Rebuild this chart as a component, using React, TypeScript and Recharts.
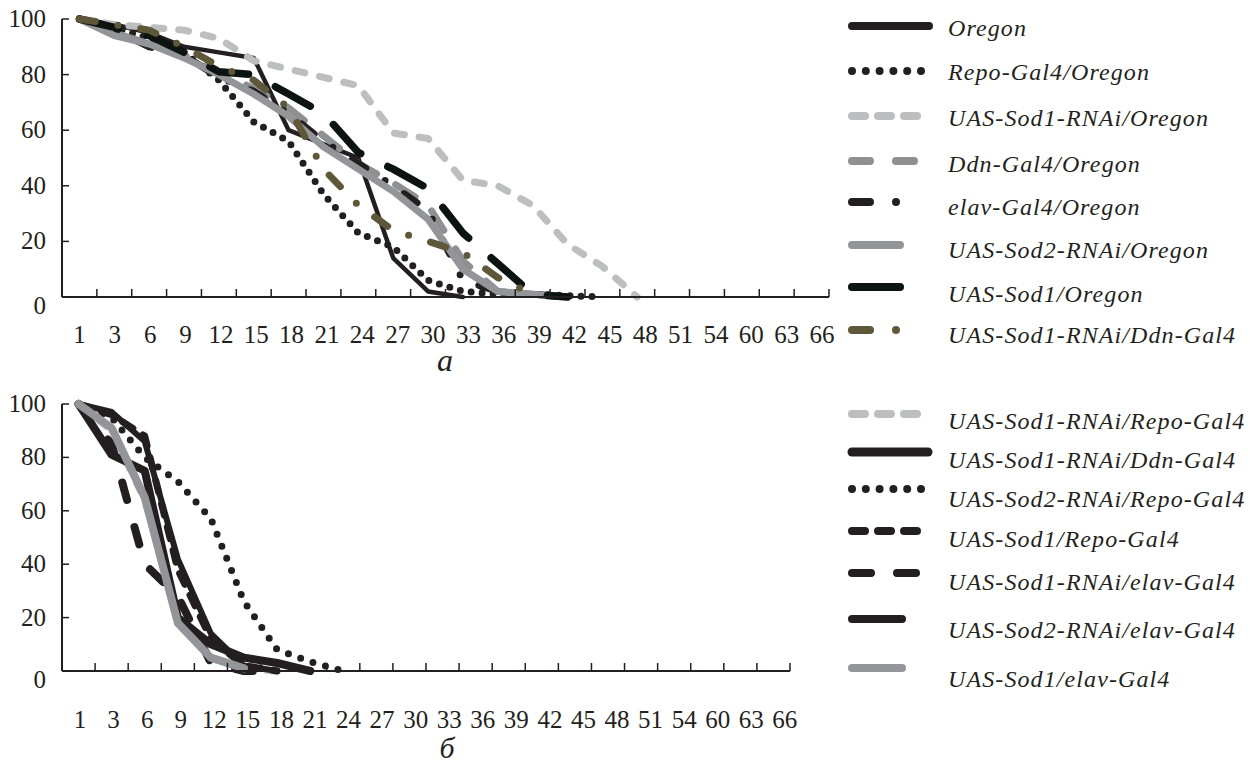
import { LineChart, Line, XAxis, YAxis } from 'recharts';

const days = ['1', '3', '6', '9', '12', '15', '18', '21', '24', '27', '30', '33', '36', '39', '42', '45', '48', '51', '54', '60', '63', '66'];
const percentTicks = [0, 20, 40, 60, 80, 100];

// panel а — survival, %
const oregon = [100, 98, 95, 90, 88, 86, 60, 55, 50, 14, 2, 0];
const repoOregon = [100, 97, 93, 88, 78, 63, 56, 37, 23, 18, 6, 2, 1, 1, 0.5, 0];
const sod1RnaiOregon = [100, 98, 97, 96, 93, 85, 82, 79, 76, 59, 57, 42, 40, 33, 19, 11, 0];
const ddnOregon = [100, 95, 91, 87, 81, 75, 68, 58, 48, 41, 33, 13, 2, 1, 0];
const elavOregon = [100, 96, 90, 87, 79, 74, 66, 56, 48, 40, 31, 6, 2, 1, 0];
const sod2RnaiOregon = [100, 94, 91, 86, 80, 73, 65, 54, 46, 38, 28, 10, 2, 1, 0];
const sod1Oregon = [100, 97, 94, 88, 81, 80, 73, 66, 52, 46, 39, 23, 12, 1, 0];
const sod1RnaiDdnA = [100, 98, 96, 90, 83, 78, 68, 46, 33, 24, 20, 16, 7, 1];

// panel б
const sod1RnaiRepo = [100, 90, 64, 22, 5, 1, 0];
const sod1RnaiDdnB = [100, 81, 75, 20, 10, 5, 3, 0];
const sod2RnaiRepo = [100, 95, 80, 71, 57, 26, 8, 3.5, 0];
const sod1Repo = [100, 96, 88, 38, 12, 2, 0];
const sod1RnaiElav = [100, 85, 40, 28, 3, 0, 0];
const sod2RnaiElav = [100, 97, 86, 42, 14, 2, 0];
const sod1Elav = [100, 91, 65, 18, 5, 1];

const INK = '#231f20';
const SERIF = '"Liberation Serif", "Times New Roman", serif';

type Series = {
  name: string;
  values: number[];
  color: string;
  width: number;
  dash?: string;
  legendLen: number;
  legendDash?: string;
  legendWidth?: number;
};

const seriesA: Series[] = [
  { name: 'Oregon', values: oregon, color: INK, width: 4.5, legendLen: 77 },
  { name: 'Repo-Gal4/Oregon', values: repoOregon, color: INK, width: 7, dash: '0 11', legendLen: 70, legendDash: '0 13.8' },
  { name: 'UAS-Sod1-RNAi/Oregon', values: sod1RnaiOregon, color: '#bcbec0', width: 7, dash: '10 15', legendLen: 68, legendDash: '13 13' },
  { name: 'Ddn-Gal4/Oregon', values: ddnOregon, color: '#8e9092', width: 7, dash: '23 22', legendLen: 70, legendDash: '18 26' },
  { name: 'elav-Gal4/Oregon', values: elavOregon, color: INK, width: 7, dash: '16 23 0 23', legendLen: 60, legendDash: '18 26 0 100' },
  { name: 'UAS-Sod2-RNAi/Oregon', values: sod2RnaiOregon, color: '#939598', width: 7, legendLen: 48 },
  { name: 'UAS-Sod1/Oregon', values: sod1Oregon, color: '#0b1411', width: 7.5, dash: '40 30', legendLen: 48 },
  { name: 'UAS-Sod1-RNAi/Ddn-Gal4', values: sod1RnaiDdnA, color: '#5f573a', width: 7, dash: '16 23 0 23', legendLen: 60, legendDash: '18 26 0 100' },
];

const seriesB: Series[] = [
  { name: 'UAS-Sod1-RNAi/Repo-Gal4', values: sod1RnaiRepo, color: '#bcbec0', width: 7, dash: '10 15', legendLen: 68, legendDash: '13 13' },
  { name: 'UAS-Sod1-RNAi/Ddn-Gal4', values: sod1RnaiDdnB, color: INK, width: 8, legendLen: 76, legendWidth: 9 },
  { name: 'UAS-Sod2-RNAi/Repo-Gal4', values: sod2RnaiRepo, color: INK, width: 7, dash: '0 13', legendLen: 70, legendDash: '0 13.8' },
  { name: 'UAS-Sod1/Repo-Gal4', values: sod1Repo, color: INK, width: 7, dash: '12 12', legendLen: 68, legendDash: '13 13' },
  { name: 'UAS-Sod1-RNAi/elav-Gal4', values: sod1RnaiElav, color: INK, width: 8, dash: '18 28', legendLen: 70, legendDash: '19 26' },
  { name: 'UAS-Sod2-RNAi/elav-Gal4', values: sod2RnaiElav, color: INK, width: 6, legendLen: 50 },
  { name: 'UAS-Sod1/elav-Gal4', values: sod1Elav, color: '#939598', width: 8, legendLen: 50 },
];

const legendA = { lines: [26, 71, 116, 161, 202, 245, 287, 330], text: [36, 80, 126, 172, 215, 258, 302, 343] };
const legendB = { lines: [414, 452, 489, 531, 573, 619, 668], text: [429, 468, 507, 547, 590, 638, 687] };

function toRows(series: Series[]) {
  return days.map((day, i) => {
    const row: Record<string, string | number | null> = { day };
    series.forEach((s, j) => {
      row['s' + j] = i < s.values.length ? s.values[i] : null;
    });
    return row;
  });
}

function makeXTick(half: number, stretch: number, shift: number, labelDy: number) {
  return (props: any) => {
    const { x, y, payload, index } = props;
    return (
      <g>
        <line x1={x + half} x2={x + half} y1={y - 8} y2={y} stroke={INK} strokeWidth={1.5} />
        <text x={x + shift + stretch * index} y={y + labelDy} textAnchor="middle" fontFamily={SERIF} fontSize={25} fill={INK}>
          {payload.value}
        </text>
      </g>
    );
  };
}

function YTick(props: any) {
  const { x, y, payload } = props;
  return (
    <g>
      <line x1={x} x2={x + 7} y1={y} y2={y} stroke={INK} strokeWidth={1.5} />
      <text x={x - 16} y={y + 8 + (payload.value === 0 ? 9 : 0)} textAnchor="end" fontFamily={SERIF} fontSize={25} fill={INK}>
        {payload.value}
      </text>
    </g>
  );
}

type PanelProps = {
  series: Series[];
  top: number;
  width: number;
  height: number;
  margin: { top: number; right: number; left: number; bottom: number };
  plotWidth: number;
  stretch: number;
  shift: number;
  labelDy: number;
};

function Panel({ series, top, width, height, margin, plotWidth, stretch, shift, labelDy }: PanelProps) {
  const half = plotWidth / 44;
  return (
    <div style={{ position: 'absolute', left: 0, top }}>
      <LineChart width={width} height={height} data={toRows(series)} margin={margin}>
        <XAxis
          dataKey="day"
          interval={0}
          padding={{ left: half, right: half }}
          axisLine={{ stroke: INK, strokeWidth: 2 }}
          tickLine={false}
          tickSize={0}
          tickMargin={0}
          height={60}
          tick={makeXTick(half, stretch, shift, labelDy)}
        />
        <YAxis
          domain={[0, 100]}
          ticks={percentTicks}
          interval={0}
          width={50}
          axisLine={{ stroke: INK, strokeWidth: 2 }}
          tickLine={false}
          tickSize={0}
          tickMargin={0}
          tick={YTick}
        />
        {series.map((s, j) => (
          <Line
            key={s.name}
            dataKey={'s' + j}
            name={s.name}
            stroke={s.color}
            strokeWidth={s.width}
            strokeDasharray={s.dash}
            strokeLinecap="round"
            strokeLinejoin="round"
            dot={false}
            activeDot={false}
            type="linear"
            isAnimationActive={false}
          />
        ))}
      </LineChart>
    </div>
  );
}

function LegendItems({ series, pos }: { series: Series[]; pos: { lines: number[]; text: number[] } }) {
  return (
    <>
      {series.map((s, i) => {
        const y = pos.lines[i];
        return (
          <g key={s.name}>
            <line
              x1={852}
              x2={852 + s.legendLen}
              y1={y}
              y2={y}
              stroke={s.color}
              strokeWidth={s.legendWidth ?? 8}
              strokeDasharray={s.legendDash}
              strokeLinecap="round"
            />
            <text x={948} y={pos.text[i]} fontFamily={SERIF} fontStyle="italic" fontSize={24} letterSpacing={1.1} fill={INK}>
              {s.name}
            </text>
          </g>
        );
      })}
    </>
  );
}

export default function App() {
  return (
    <div style={{ position: 'absolute', left: 0, top: 0, width: 1260, height: 768, background: '#fff', overflow: 'hidden' }}>
      <Panel
        series={seriesA}
        top={0}
        width={840}
        height={380}
        margin={{ top: 19, right: 11, left: 12, bottom: 23 }}
        plotWidth={767}
        stretch={0.5}
        shift={0}
        labelDy={46}
      />
      <Panel
        series={seriesB}
        top={385}
        width={840}
        height={384}
        margin={{ top: 19, right: 50, left: 12, bottom: 38 }}
        plotWidth={728}
        stretch={0.47}
        shift={1.5}
        labelDy={57}
      />
      <svg width={1260} height={768} style={{ position: 'absolute', left: 0, top: 0, pointerEvents: 'none' }}>
        <LegendItems series={seriesA} pos={legendA} />
        <LegendItems series={seriesB} pos={legendB} />
        <text x={445} y={371} textAnchor="middle" fontFamily={SERIF} fontStyle="italic" fontSize={32} fill={INK}>а</text>
        <text x={447} y={758} textAnchor="middle" fontFamily={SERIF} fontStyle="italic" fontSize={30} fill={INK}>б</text>
      </svg>
    </div>
  );
}
